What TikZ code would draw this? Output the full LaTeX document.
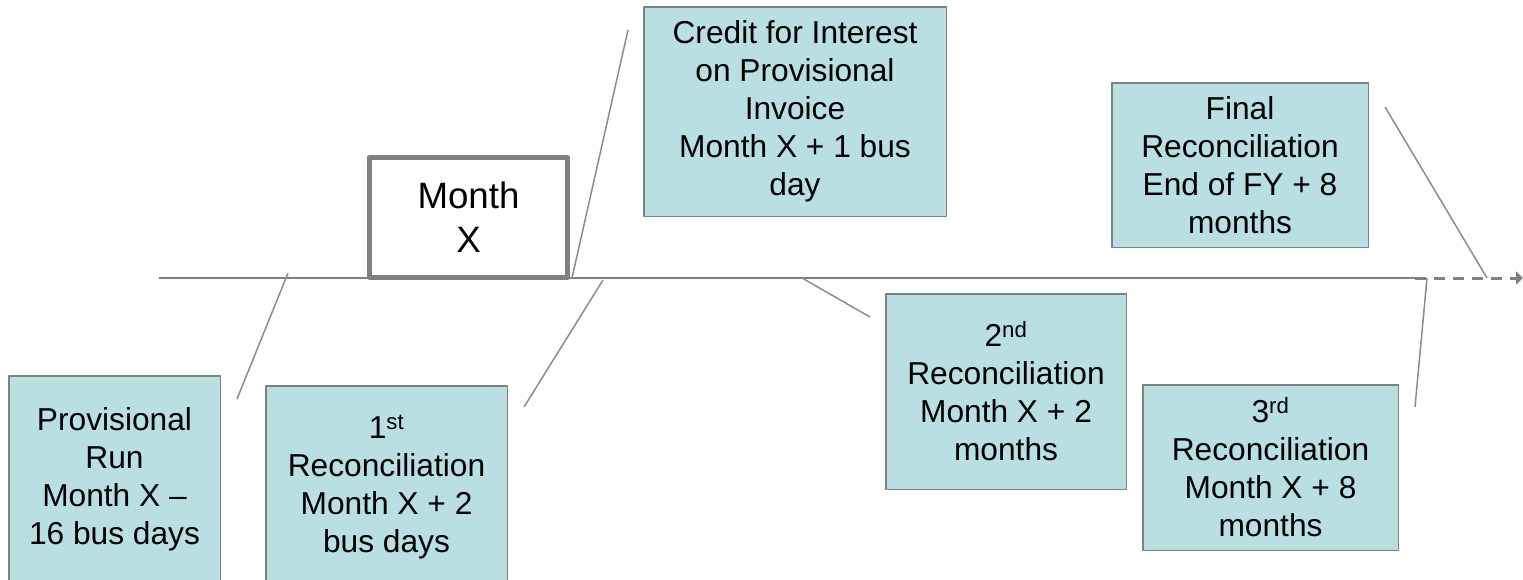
\documentclass[tikz,border=0pt]{standalone}
\usepackage{fontspec}
\setmainfont{Liberation Sans}
\usetikzlibrary{arrows.meta}
\definecolor{boxfill}{RGB}{185,223,227}
\definecolor{boxline}{RGB}{128,128,128}
\definecolor{tickline}{RGB}{140,140,140}
\begin{document}
\begin{tikzpicture} [x=1pt, y=-1pt, line join=round, font=\fontsize{31.7}{38}\selectfont,
  box/.style={draw=boxline, line width=1.5pt, fill=boxfill, align=center, inner sep=0pt},
  tick/.style={draw=tickline, line width=1.5pt}]
 \useasboundingbox (0,0) rectangle (1523,579);
 \clip (0,0) rectangle (1523,579);
 % time line
 \coordinate (tstart) at (159,278);
 \coordinate (tsolid) at (1415,278);
 \coordinate (tend) at (1523,278);
 \draw[boxline, line width=2pt] (tstart)--(tsolid);
 \draw[boxline, line width=3pt, dash pattern=on 11pt off 8pt, -{Triangle[length=7pt,width=13pt]}] (tsolid)--(tend);
 % boxes
 \node[box, minimum width=211.5pt, minimum height=206.5pt] (prov) at (114.5,479) {Provisional\\Run\\Month X –\\16 bus days};
 \node[box, minimum width=241.5pt, minimum height=202.5pt] (firstrec) at (386.5,487) {1\textsuperscript{st}\\Reconciliation\\Month X + 2\\bus days};
 \node[draw=boxline, line width=5pt, fill=white, align=center, inner sep=0pt, minimum width=198pt, minimum height=120pt,
   font=\fontsize{36.7}{44}\selectfont] (monthx) at (468.5,217.5) {Month\\X};
 \node[box, minimum width=302.5pt, minimum height=209.5pt] (credit) at (795,111.5) {Credit for Interest\\on Provisional\\Invoice\\Month X + 1 bus\\day};
 \node[box, minimum width=256.5pt, minimum height=164.5pt] (final) at (1240,165) {Final\\Reconciliation\\End of FY + 8\\months};
 \node[box, minimum width=240.5pt, minimum height=195.5pt] (secondrec) at (1006,391.5) {2\textsuperscript{nd}\\Reconciliation\\Month X + 2\\months};
 \node[box, minimum width=255.5pt, minimum height=165.5pt] (thirdrec) at (1270.5,467.5) {3\textsuperscript{rd}\\Reconciliation\\Month X + 8\\months};
 % pointers
 \coordinate (provtop) at (288,273);   \coordinate (provend) at (237,399);
 \coordinate (firsttop) at (603,280);  \coordinate (firstend) at (524,407);
 \coordinate (creditbot) at (572,278); \coordinate (creditend) at (628,30);
 \coordinate (secondtop) at (802,278); \coordinate (secondend) at (870,317);
 \coordinate (thirdtop) at (1427,278); \coordinate (thirdend) at (1415,407);
 \coordinate (finalbot) at (1487,278); \coordinate (finalend) at (1385,107);
 \draw[tick] (provtop)--(provend);
 \draw[tick] (firsttop)--(firstend);
 \draw[tick] (creditbot)--(creditend);
 \draw[tick] (secondtop)--(secondend);
 \draw[tick] (thirdtop)--(thirdend);
 \draw[tick] (finalbot)--(finalend);
\end{tikzpicture}
\end{document}
